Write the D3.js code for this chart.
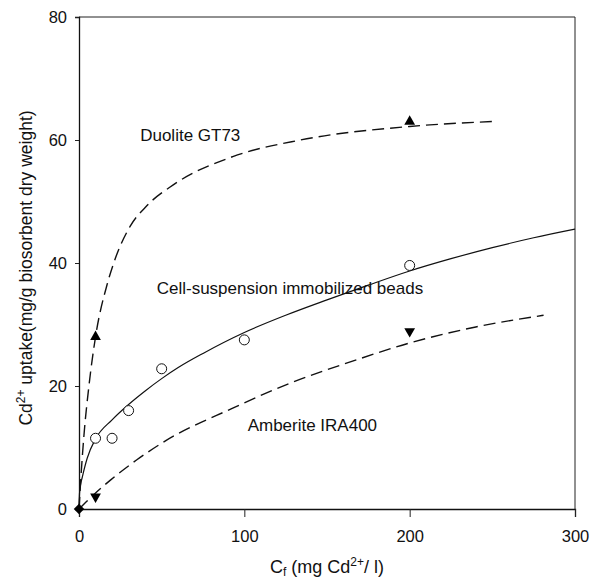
<!DOCTYPE html>
<html>
<head>
<meta charset="utf-8">
<script src="https://cdn.jsdelivr.net/npm/d3@7"></script>
<style>
  body { margin: 0; background: #fff; }
  svg { font-family: "Liberation Sans", Arial, sans-serif; }
</style>
</head>
<body>
<div id="chart"></div>
<script>
// Measured points
const duolitePts = [[0, 0], [10, 28], [200, 63]];
const cellPts = [[0, 0], [10, 11.5], [20, 11.5], [30, 16], [50, 22.8], [100, 27.5], [200, 39.6]];
const amberPts = [[0, 0], [10, 2], [200, 28.9]];

// Fitted curves
const duoliteCurve = [[0, 0], [1, 4.5], [3, 12], [6, 20], [10, 28], [17, 36.5], [21, 40], [31, 46], [41, 49.3], [57, 52.7], [93, 57.3], [134, 60], [200, 62.2], [250, 63]];
const cellCurve = [[0, 0], [0.3, 2.5], [1, 4], [2, 5.2], [5, 8.3], [10, 11.4], [20, 14.5], [30, 17], [40, 19.2], [50, 21.2], [60, 23], [75, 25.3], [100, 28.7], [125, 31.5], [150, 34], [175, 36.4], [200, 38.7], [225, 40.7], [250, 42.5], [275, 44.1], [300, 45.5]];
const amberCurve = [[0, 0], [10, 2.6], [19, 4.7], [35, 8], [53, 11.2], [93, 16.4], [128, 20.5], [165, 24], [200, 27], [240, 29.6], [281, 31.5]];

const xTicks = [0, 100, 200, 300];
const yTicks = [0, 20, 40, 60, 80];

const width = 590, height = 578;
const margin = { top: 17, right: 15, bottom: 69, left: 79 };

const svg = d3.select("#chart").append("svg")
  .attr("width", width)
  .attr("height", height);

const x = d3.scaleLinear().domain([0, 300]).range([margin.left, width - margin.right]);
const y = d3.scaleLinear().domain([0, 80]).range([height - margin.bottom, margin.top]);

// Frame (top and right)
svg.append("path")
  .attr("d", `M${x(0)},${y(80)}H${x(300)}V${y(0)}`)
  .attr("fill", "none")
  .attr("stroke", "#222")
  .attr("stroke-width", 1);

// Axes
const xAxis = svg.append("g")
  .attr("transform", `translate(0,${y(0)})`)
  .call(d3.axisBottom(x).tickValues(xTicks).tickSize(8).tickPadding(13));
const yAxis = svg.append("g")
  .attr("transform", `translate(${x(0)},0)`)
  .call(d3.axisLeft(y).tickValues(yTicks).tickSize(4).tickPadding(8));

[xAxis, yAxis].forEach(a => {
  a.select(".domain").attr("stroke", "#111").attr("stroke-width", 1.3);
  a.selectAll(".tick line").attr("stroke", "#222");
  a.selectAll(".tick text")
    .attr("font-size", 16.5)
    .attr("font-family", "Liberation Sans, Arial, sans-serif")
    .attr("fill", "#111");
});

// Curves
const line = d3.line()
  .curve(d3.curveMonotoneX)
  .x(d => x(d[0]))
  .y(d => y(d[1]));

svg.append("path").datum(duoliteCurve)
  .attr("d", line).attr("fill", "none")
  .attr("stroke", "#111").attr("stroke-width", 1.4)
  .attr("stroke-dasharray", "12,6");

svg.append("path").datum(cellCurve)
  .attr("d", line).attr("fill", "none")
  .attr("stroke", "#111").attr("stroke-width", 1.2);

svg.append("path").datum(amberCurve)
  .attr("d", line).attr("fill", "none")
  .attr("stroke", "#111").attr("stroke-width", 1.4)
  .attr("stroke-dasharray", "12,6");

// Markers
const triUp = d3.symbol().type(d3.symbolTriangle).size(50);

svg.selectAll(".duo").data(duolitePts.filter(d => d[0] > 0)).join("path")
  .attr("transform", d => `translate(${x(d[0])},${y(d[1])})`)
  .attr("d", triUp).attr("fill", "#000");

svg.selectAll(".amb").data(amberPts.filter(d => d[0] > 0)).join("path")
  .attr("transform", d => `translate(${x(d[0])},${y(d[1])}) rotate(180)`)
  .attr("d", triUp).attr("fill", "#000");

svg.selectAll(".cell").data(cellPts.filter(d => d[0] > 0)).join("circle")
  .attr("cx", d => x(d[0])).attr("cy", d => y(d[1])).attr("r", 5)
  .attr("fill", "#fff").attr("stroke", "#111").attr("stroke-width", 1);

// Origin marker (all series start at 0,0)
svg.append("path")
  .attr("transform", `translate(${x(0)},${y(0)}) rotate(45)`)
  .attr("d", d3.symbol().type(d3.symbolSquare).size(55))
  .attr("fill", "#000");

// Curve labels
const labels = [
  { text: "Duolite GT73", x: 37, y: 59.8 },
  { text: "Cell-suspension immobilized beads", x: 47, y: 35 },
  { text: "Amberite IRA400", x: 102, y: 12.7 }
];
svg.selectAll(".lbl").data(labels).join("text")
  .attr("x", d => x(d.x)).attr("y", d => y(d.y))
  .attr("font-size", 17).attr("fill", "#111")
  .text(d => d.text);

// Axis titles
const xt = svg.append("text")
  .attr("x", 327).attr("y", 573)
  .attr("text-anchor", "middle")
  .attr("font-size", 18).attr("fill", "#111");
xt.append("tspan").text("C");
xt.append("tspan").attr("font-size", 12).attr("dy", 3).text("f");
xt.append("tspan").attr("dy", -3).text(" (mg Cd");
xt.append("tspan").attr("font-size", 12).attr("dy", -7).text("2+");
xt.append("tspan").attr("dy", 7).text("/ l)");

const yt = svg.append("text")
  .attr("transform", "translate(32,268) rotate(-90)")
  .attr("text-anchor", "middle")
  .attr("font-size", 17.5).attr("fill", "#111");
yt.append("tspan").text("Cd");
yt.append("tspan").attr("font-size", 12).attr("dy", -7).text("2+");
yt.append("tspan").attr("dy", 7).text(" uptake(mg/g biosorbent dry weight)");
</script>
</body>
</html>
